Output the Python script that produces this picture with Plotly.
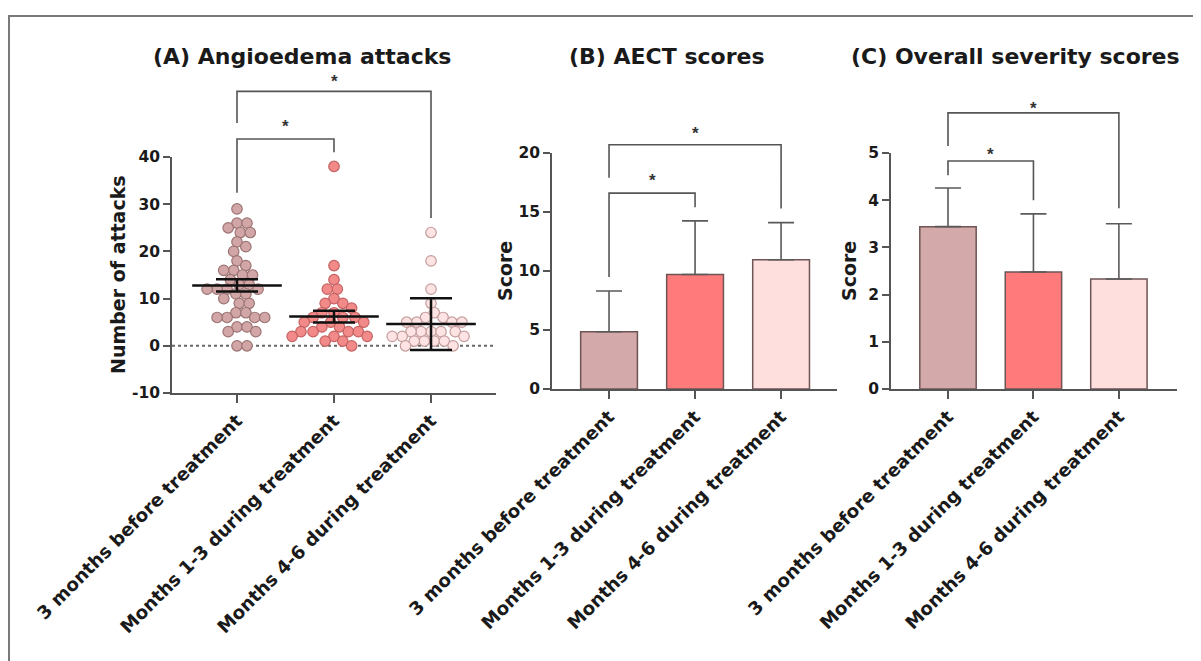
import math
import plotly.graph_objects as go

# ---------------- data ----------------
categories = ["3 months before treatment", "Months 1-3 during treatment", "Months 4-6 during treatment"]

attacks_before = [29, 26, 26, 25, 24, 24, 22, 21, 20, 18, 17, 16, 16, 15, 15, 14, 13, 13, 12, 12,
                  12, 12, 11, 11, 10, 9, 9, 7, 7, 6, 6, 6, 6, 4, 4, 3, 3, 0, 0]
attacks_m1_3 = [38, 17, 14, 12, 12, 10, 9, 9, 8, 7, 7, 6, 6, 6, 5, 5, 5, 4, 4,
                3, 3, 3, 3, 2, 2, 2, 1, 1, 0]
attacks_m4_6 = [24, 18, 12, 9, 7, 6, 6, 5, 5, 5, 5, 3, 3, 3, 3, 3, 2, 2, 2, 1, 1, 1, 1, 0, 0]
attacks_mean = [12.8, 6.2, 4.6]
attacks_err = [1.3, 1.25, 5.5]
attacks_ticks = [-10, 0, 10, 20, 30, 40]

aect_mean = [4.85, 9.7, 10.95]
aect_sd = [3.45, 4.55, 3.15]
aect_ticks = [0, 5, 10, 15, 20]

severity_mean = [3.44, 2.48, 2.33]
severity_sd = [0.82, 1.23, 1.17]
severity_ticks = [0, 1, 2, 3, 4, 5]

# significance brackets: (x_left, x_right, left_leg_bottom, top, right_leg_bottom, star_y)
brackets_A = [(0, 1, 32.4, 43.8, 41.0, 47.7), (0, 2, 47.2, 53.9, 27.1, 57.3)]
brackets_B = [(0, 1, 9.5, 16.6, 15.4, 18.2), (0, 2, 17.9, 20.7, 15.3, 22.2)]
brackets_C = [(0, 1, 4.53, 4.83, 4.0, 5.1), (0, 2, 5.15, 5.85, 3.83, 6.06)]

titles = ["(A) Angioedema attacks", "(B) AECT scores", "(C) Overall severity scores"]

# ---------------- style ----------------
OFF = 8  # page body margin
W, H = 1201 - OFF, 661 - OFF
FONT = "DejaVu Sans"
fill_cols = ["#d3a9a9", "#ff7b7b", "#ffdede"]
dot_fill = ["#d2a6a6", "#f28a8a", "#fde3e3"]
dot_line = ["#9c7474", "#c46262", "#c49c9c"]
axis_col = "#555555"
text_col = "#1a1a1a"


def pdx(px):
    return (px - OFF) / W


def pdy(py):
    return 1 - (py - OFF) / H


# panel geometry (pixels in the 1201x661 window)
panels = {
    "A": dict(x=(172, 496), y=(393, 157), xr=[-0.67, 2.67], yr=[-10, 40], ticks=attacks_ticks),
    "B": dict(x=(552, 837), y=(389, 153), xr=[-0.663, 2.65], yr=[0, 20], ticks=aect_ticks),
    "C": dict(x=(891, 1177), y=(389, 153), xr=[-0.667, 2.68], yr=[0, 5], ticks=severity_ticks),
}


def to_paper(panel, xv, yv):
    p = panels[panel]
    x0, x1 = p["x"]
    yb, yt = p["y"]
    xr, yr = p["xr"], p["yr"]
    px = x0 + (xv - xr[0]) / (xr[1] - xr[0]) * (x1 - x0)
    py = yb + (yv - yr[0]) / (yr[1] - yr[0]) * (yt - yb)
    return pdx(px), pdy(py)


def swarm_offsets(values, d, py_per_unit):
    placed = []
    offs = []
    for v in values:
        y = v * py_per_unit
        cands = [0.0]
        for (qx, qy) in placed:
            dy = y - qy
            if abs(dy) < d:
                dx = math.sqrt(d * d - dy * dy)
                cands += [qx + dx, qx - dx]
        cands.sort(key=lambda c: (abs(c), -c))
        chosen = cands[-1]
        for c in cands:
            if all((c - qx) ** 2 + (y - qy) ** 2 >= d * d - 1e-6 for qx, qy in placed):
                chosen = c
                break
        placed.append((chosen, y))
        offs.append(chosen)
    return offs


fig = go.Figure()

# ---------------- panel A: scatter ----------------
pA = panels["A"]
px_per_x = (pA["x"][1] - pA["x"][0]) / (pA["xr"][1] - pA["xr"][0])
px_per_y = (pA["y"][0] - pA["y"][1]) / (pA["yr"][1] - pA["yr"][0])
groups = [attacks_before, attacks_m1_3, attacks_m4_6]
for i, vals in enumerate(groups):
    vals_sorted = sorted(vals, reverse=True)
    offs = swarm_offsets(vals_sorted, 10.0, px_per_y)
    xs = [i + o / px_per_x for o in offs]
    fig.add_trace(go.Scatter(
        x=xs, y=vals_sorted, mode="markers", xaxis="x", yaxis="y",
        marker=dict(size=10.5, color=dot_fill[i], line=dict(color=dot_line[i], width=1.2)),
        cliponaxis=False, hoverinfo="y"))

fig.add_trace(go.Scatter(
    x=[0, 1, 2], y=attacks_mean, mode="markers", xaxis="x", yaxis="y",
    marker=dict(symbol="line-ew", size=64, line=dict(color="#111111", width=2.5)),
    error_y=dict(type="data", array=attacks_err, color="#111111", thickness=2.5, width=21),
    cliponaxis=False))

# ---------------- panels B, C: bars ----------------
for ax, means, sds in [("2", aect_mean, aect_sd), ("3", severity_mean, severity_sd)]:
    fig.add_trace(go.Bar(
        x=[0, 1, 2], y=means, xaxis="x" + ax, yaxis="y" + ax, width=0.66,
        marker=dict(color=fill_cols, line=dict(color="#6e5555", width=1.5)),
        error_y=dict(type="data", symmetric=False, array=sds, arrayminus=[0, 0, 0],
                     color="#5a5a5a", thickness=1.6, width=13)))

# ---------------- axes ----------------
axis_common = dict(showgrid=False, zeroline=False, showline=True, linecolor=axis_col, linewidth=1.6,
                   ticks="outside", ticklen=8, tickwidth=1.6, tickcolor=axis_col, automargin=False)
layout_axes = {}
for k, (name, sfx) in enumerate([("A", ""), ("B", "2"), ("C", "3")]):
    p = panels[name]
    xd = [pdx(p["x"][0]), pdx(p["x"][1])]
    yd = [pdy(p["y"][0]), pdy(p["y"][1])]
    layout_axes["xaxis" + sfx] = dict(
        axis_common, domain=xd, range=p["xr"], anchor="y" + sfx,
        tickmode="array", tickvals=[0, 1, 2], ticktext=categories, tickangle=-45,
        tickfont=dict(family=FONT, size=18.3, color=text_col, weight="bold"))
    layout_axes["yaxis" + sfx] = dict(
        axis_common, domain=yd, range=p["yr"], anchor="x" + sfx,
        tickmode="array", tickvals=p["ticks"], ticktext=[str(t) for t in p["ticks"]], ticklen=7,
        tickfont=dict(family=FONT, size=15.5, color=text_col, weight="bold"))

shapes = []
annotations = []

# zero dotted line in A
x0p, y0p = to_paper("A", pA["xr"][0], 0)
x1p, _ = to_paper("A", pA["xr"][1], 0)
shapes.append(dict(type="line", xref="paper", yref="paper", x0=x0p, x1=x1p, y0=y0p, y1=y0p,
                   line=dict(color="#666666", width=2, dash="dot"), layer="below"))

# brackets
for name, brs in [("A", brackets_A), ("B", brackets_B), ("C", brackets_C)]:
    for (xl, xrr, lb, top, rb, sy) in brs:
        pts = [to_paper(name, xl, lb), to_paper(name, xl, top), to_paper(name, xrr, top), to_paper(name, xrr, rb)]
        path = "M " + " L ".join(f"{a},{b}" for a, b in pts)
        shapes.append(dict(type="path", xref="paper", yref="paper", path=path,
                           line=dict(color="#555555", width=1.6)))
        sx, syp = to_paper(name, (xl + xrr) / 2, sy)
        annotations.append(dict(text="*", x=sx, y=syp, xref="paper", yref="paper", showarrow=False,
                                xanchor="center", yanchor="top", yshift=5.5,
                                font=dict(family="Liberation Sans", size=17, color="#333333",
                                          weight="bold")))

# frame
shapes.append(dict(type="rect", xref="paper", yref="paper", x0=pdx(9), x1=1.02, y0=-0.02, y1=pdy(16),
                   line=dict(color="#7a7a7a", width=2), fillcolor="rgba(0,0,0,0)"))

# titles
for t, cx in zip(titles, [302, 667, 1015]):
    annotations.append(dict(text=t, x=pdx(cx), y=pdy(56), xref="paper", yref="paper", showarrow=False,
                            xanchor="center", yanchor="middle",
                            font=dict(family=FONT, size=22, color=text_col, weight="bold")))

# axis titles
for t, cx, cy in [("Number of attacks", 118, 275), ("Score", 505, 271), ("Score", 849, 271)]:
    annotations.append(dict(text=t, x=pdx(cx), y=pdy(cy), xref="paper", yref="paper", showarrow=False,
                            textangle=-90, xanchor="center", yanchor="middle",
                            font=dict(family=FONT, size=19, color=text_col, weight="bold")))

fig.update_layout(
    width=W, height=H, margin=dict(l=0, r=0, t=0, b=0),
    paper_bgcolor="white", plot_bgcolor="white", showlegend=False,
    shapes=shapes, annotations=annotations, bargap=0.3,
    **layout_axes)

fig.write_html("out.html")
